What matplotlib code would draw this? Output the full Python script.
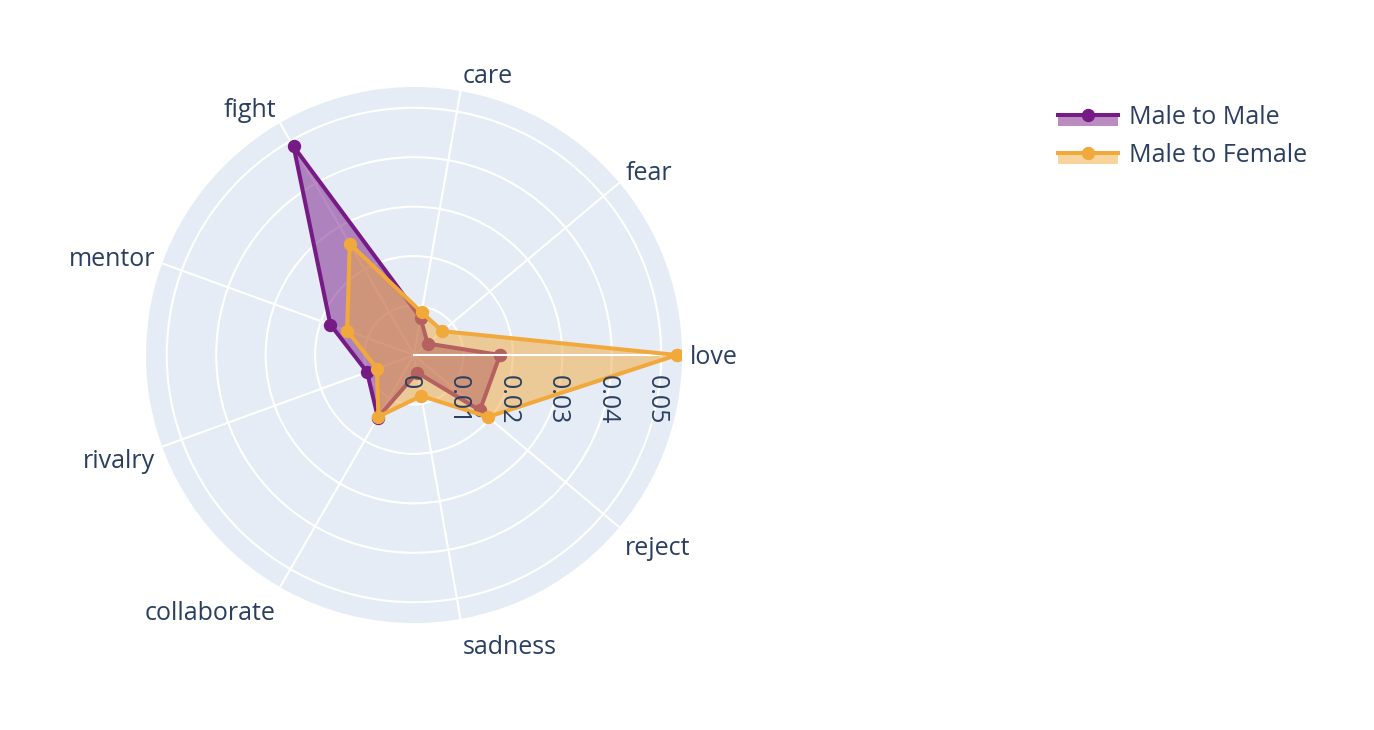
import matplotlib.pyplot as plt
import numpy as np
from matplotlib.patches import Rectangle
from matplotlib.lines import Line2D

plt.rcParams['font.family'] = ['Open Sans', 'DejaVu Sans']

# --- data ---
categories = ['love', 'fear', 'care', 'fight', 'mentor', 'rivalry',
              'collaborate', 'sadness', 'reject']
male_to_male = [0.0174, 0.0036, 0.0076, 0.0487, 0.0180, 0.0101, 0.0146, 0.0036, 0.0174]
male_to_female = [0.0532, 0.0075, 0.0088, 0.0260, 0.0144, 0.0080, 0.0144, 0.0084, 0.0195]
series_names = ['Male to Male', 'Male to Female']
r_ticks = [0, 0.01, 0.02, 0.03, 0.04, 0.05]
r_max = 0.0542

# --- style ---
TEXT = '#2a3f5f'
BG = '#E5ECF6'
PURPLE = '#761A86'
ORANGE = '#F2A93B'
FS = 18

W, H = 1374, 730
fig = plt.figure(figsize=(W / 100, H / 100), dpi=100, facecolor='white')

# polar area: centre (414, 355) px, radius 268 px
cx, cy, R = 414, 355, 268
ax = fig.add_axes([(cx - R) / W, (H - cy - R) / H, 2 * R / W, 2 * R / H],
                  projection='polar')
ax.set_facecolor(BG)
ax.spines['polar'].set_visible(False)
ax.set_axisbelow(True)

angles = np.deg2rad(np.arange(len(categories)) * 360 / len(categories))
ax.set_xticks(angles)
ax.set_xticklabels([])
ax.set_ylim(0, r_max)
ax.set_yticks(r_ticks[1:])
ax.set_yticklabels([])
ax.grid(color='white', lw=1.5)
ax.tick_params(length=0)

th = np.append(angles, angles[0])
for vals, col, z in [(male_to_male, PURPLE, 2.0), (male_to_female, ORANGE, 2.2)]:
    v = np.append(vals, vals[0])
    ax.fill(th, v, color=col, alpha=0.5, lw=0, zorder=z)
    ax.plot(th, v, color=col, lw=2.9, marker='o', ms=8.6, zorder=z + 0.2 if col == ORANGE else z + 0.1)

# radial axis line on top of the fills
ax.plot([0, 0], [0, r_max], color='white', lw=1.5, zorder=2.3)

# radial tick labels (rotated, under the axis line)
for t in r_ticks:
    ax.annotate(f'{t:g}', xy=(0, t), xytext=(-5, -20), textcoords='offset pixels',
                rotation=-90, ha='center', va='top', fontsize=FS, color=TEXT,
                annotation_clip=False)

# angular labels outside the circle
for a, lab in zip(angles, categories):
    c, s = np.cos(a), np.sin(a)
    if c > 0.1:
        ha = 'left'
    elif c < -0.1:
        ha = 'right'
    else:
        ha = 'center'
    dx = np.sign(c) * (1 + 6.5 * abs(c))
    dy = 17 * s - 2 if s >= 0 else 22.5 * s - 6.75
    ax.annotate(lab, xy=(a, r_max), xytext=(dx, dy), textcoords='offset pixels',
                ha=ha, va='center', fontsize=FS, color=TEXT, annotation_clip=False)

# --- legend (plotly style swatches) ---
def fx(x):
    return x / W

def fy(y):
    return 1 - y / H

for i, (name, col) in enumerate(zip(series_names, [PURPLE, ORANGE])):
    y0 = 115 + 38 * i
    fig.patches.append(Rectangle((fx(1058), fy(y0 + 11)), fx(1118) - fx(1058), fy(y0) - fy(y0 + 11),
                                 transform=fig.transFigure, facecolor=col, alpha=0.5, lw=0))
    fig.lines.append(Line2D([fx(1058), fx(1118)], [fy(y0), fy(y0)], transform=fig.transFigure,
                            color=col, lw=2.9))
    fig.lines.append(Line2D([fx(1088)], [fy(y0)], transform=fig.transFigure,
                            color=col, marker='o', ms=8.6, lw=0))
    fig.text(fx(1129), fy(y0 + 9), name, fontsize=FS, color=TEXT, ha='left', va='baseline')

fig.savefig('out.png', dpi=100, facecolor='white')
